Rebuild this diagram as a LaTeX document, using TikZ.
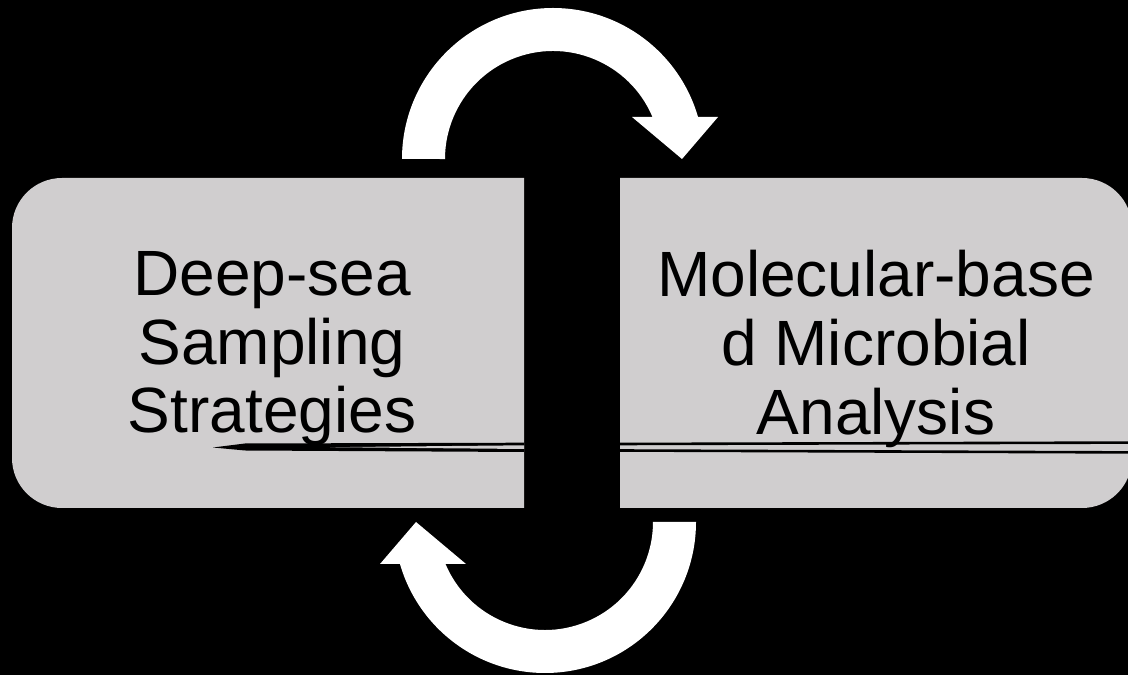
\documentclass[tikz,border=0pt]{standalone}
\usepackage{fontspec}
\setmainfont{Liberation Sans}
\definecolor{boxgray}{RGB}{208,206,207}
\begin{document}
\begin{tikzpicture}[x=1pt,y=1pt,
  boxfill/.style={fill=boxgray},
  boxtext/.style={font=\fontsize{64}{68.6}\selectfont, align=center, inner sep=0pt, text=black},
  bigarrow/.style={fill=white},
  artline/.style={draw=black, line width=2.6pt}]
\fill[black] (0,0) rectangle (1128,675);
\useasboundingbox (0,0) rectangle (1128,675);

% boxes
\fill[boxfill] (524,167) -- (62,167) arc[start angle=270,end angle=180,radius=50]
  -- (12,447) arc[start angle=180,end angle=90,radius=50] -- (524,497) -- cycle;
\fill[boxfill] (620,167) -- (1082,167) arc[start angle=-90,end angle=0,radius=50]
  -- (1132,447) arc[start angle=0,end angle=90,radius=50] -- (620,497) -- cycle;

% stray lines
\fill[black] (213,227.5) -- (245,231.5) -- (524,232.3) -- (524,223) -- (245,224.5) -- cycle;
\fill[boxgray] (330,227.8) -- (524,229.7) -- (524,226) -- cycle;
\draw[artline] (620,231) -- (1128,232.4);
\draw[artline] (620,224.5) -- (1128,222.6);

% texts
\node[boxtext] (left) at (272,326) {Deep-sea\\Sampling\\Strategies};
\node[boxtext] (right) at (876,326) {Molecular-base\\d Microbial\\Analysis};

% cycle arrows
\fill[bigarrow] (402,516) arc[start angle=180,end angle=16.15,radius=151]
  -- (718,558) -- (682,516) -- (632,558) -- (652.5,558)
  arc[start angle=22.89,end angle=180,radius=108] -- cycle;
\begin{scope}[rotate around={180:(549,334.5)}]
\fill[bigarrow] (402,516) arc[start angle=180,end angle=16.15,radius=151]
  -- (718,558) -- (682,516) -- (632,558) -- (652.5,558)
  arc[start angle=22.89,end angle=180,radius=108] -- cycle;
\end{scope}
\end{tikzpicture}
\end{document}
